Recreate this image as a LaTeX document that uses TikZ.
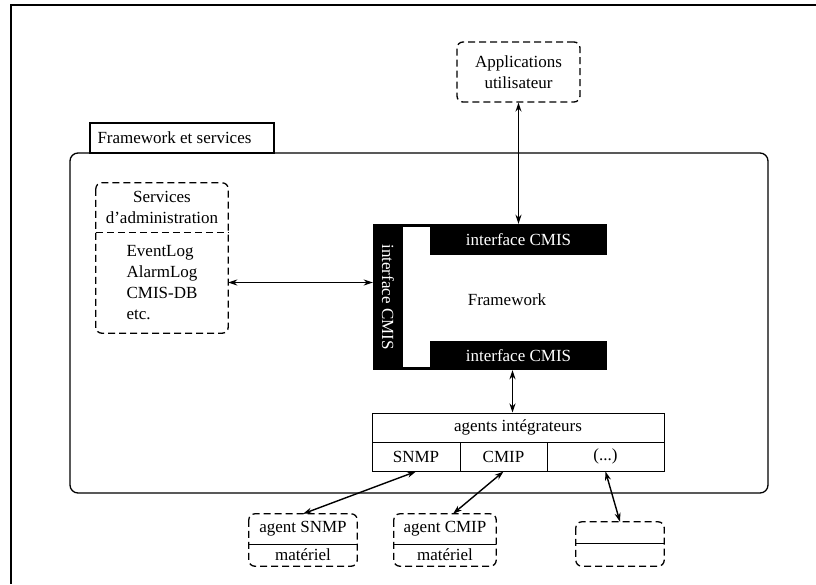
\documentclass[tikz,border=0pt]{standalone}
\usepackage{fontspec}
\setmainfont{Liberation Serif}
\usetikzlibrary{arrows.meta}

\begin{document}
\begin{tikzpicture}[x=1pt,y=-1pt,>={Stealth[length=9pt,width=6pt]},font=\fontsize{17}{21}\selectfont]
        \tikzstyle{dbox}=[draw,dash pattern=on 7pt off 4pt,line width=1.3pt,rounded corners=6pt]
        \tikzstyle{cell}=[draw,line width=1pt,inner sep=0pt]
        \tikzstyle{bar}=[fill=black,text=white,inner sep=0pt]
        \tikzstyle{link}=[<->,line width=1.4pt]
        \useasboundingbox (0,0) rectangle (816,584);

        \draw[line width=1.8pt] (816,5) -| (11,584); % cadre

        \node [dbox,minimum width=123,minimum height=60,align=center,inner sep=0pt] (apps) at (518.5,72) {Applications\\utilisateur};

        % framework et services
        \draw[line width=1.1pt] (90,123) rectangle (274,153);
        \node [anchor=west] (tabtxt) at (94,138) {Framework et services};
        \draw[line width=1.3pt,rounded corners=8pt] (70,153) rectangle (768,493);

        \node [minimum width=132,minimum height=49,align=center,inner sep=0pt] (servHead) at (162,207.5) {Services\\d'administration};
        \node [minimum width=132,minimum height=101,align=left,inner sep=0pt] (servList) at (162,282.5) {EventLog\\AlarmLog\\CMIS-DB\\etc.};
        \draw[dbox] (servHead.north west) rectangle (servList.south east);
        \draw[dash pattern=on 7pt off 4pt,line width=1.3pt] (servHead.south west) -- (servHead.south east);

        % bloc framework
        \node [fill=black,minimum width=234,minimum height=146,inner sep=0pt] (fw) at (490,297) {};
        \fill[white] (403,255) rectangle (608,341);
        \fill[white] (403,227) rectangle (430,367);
        \node [bar,rotate=-90,minimum width=146,minimum height=30] (ifLeft) at (388,297) {interface CMIS};
        \node [bar,minimum width=177,minimum height=31] (ifTop) at (518.5,239.5) {interface CMIS};
        \node [bar,minimum width=177,minimum height=29] (ifBot) at (518.5,355.5) {interface CMIS};
        \node (fwtxt) at (507,300) {Framework};

        % agents
        \node [cell,minimum width=292,minimum height=29] (agents) at (518,427.5) {agents intégrateurs};
        \node [cell,minimum width=88,minimum height=29] (snmp) at (416,456.5) {SNMP};
        \node [cell,minimum width=87,minimum height=29] (cmip) at (503.5,456.5) {CMIP};
        \node [cell,minimum width=117,minimum height=29] (etc) at (605.5,456.5) {(...)};

        \node [minimum width=108,minimum height=30,inner sep=0pt] (agSnmp) at (303,529) {agent SNMP};
        \node [minimum width=108,minimum height=22,inner sep=0pt] (hwSnmp) at (303,555) {matériel};
        \draw[dbox] (agSnmp.north west) rectangle (hwSnmp.south east);
        \draw[line width=1.3pt] (agSnmp.south west) -- (agSnmp.south east);

        \node [minimum width=102,minimum height=30,inner sep=0pt] (agCmip) at (445,529) {agent CMIP};
        \node [minimum width=102,minimum height=22,inner sep=0pt] (hwCmip) at (445,555) {matériel};
        \draw[dbox] (agCmip.north west) rectangle (hwCmip.south east);
        \draw[line width=1.3pt] (agCmip.south west) -- (agCmip.south east);

        \node [minimum width=88,minimum height=21,inner sep=0pt] (agEtc) at (620,532.5) {};
        \node [minimum width=88,minimum height=23,inner sep=0pt] (hwEtc) at (620,554.5) {};
        \draw[dbox] (agEtc.north west) rectangle (hwEtc.south east);
        \draw[line width=1.3pt] (agEtc.south west) -- (agEtc.south east);

        % liens
        \draw[link] (apps.south) -- (apps.south |- fw.north);
        \draw[link] (servList.east) -- (servList.east -| fw.west);
        \draw[link] ([xshift=-6]ifBot.south) -- ([xshift=-6]ifBot.south |- agents.north);
        \draw[link] (snmp.south) -- (agSnmp.north);
        \draw[link] (cmip.south) -- ([xshift=8]agCmip.north);
        \draw[link] (etc.south) -- (agEtc.north);
\end{tikzpicture}
\end{document}
